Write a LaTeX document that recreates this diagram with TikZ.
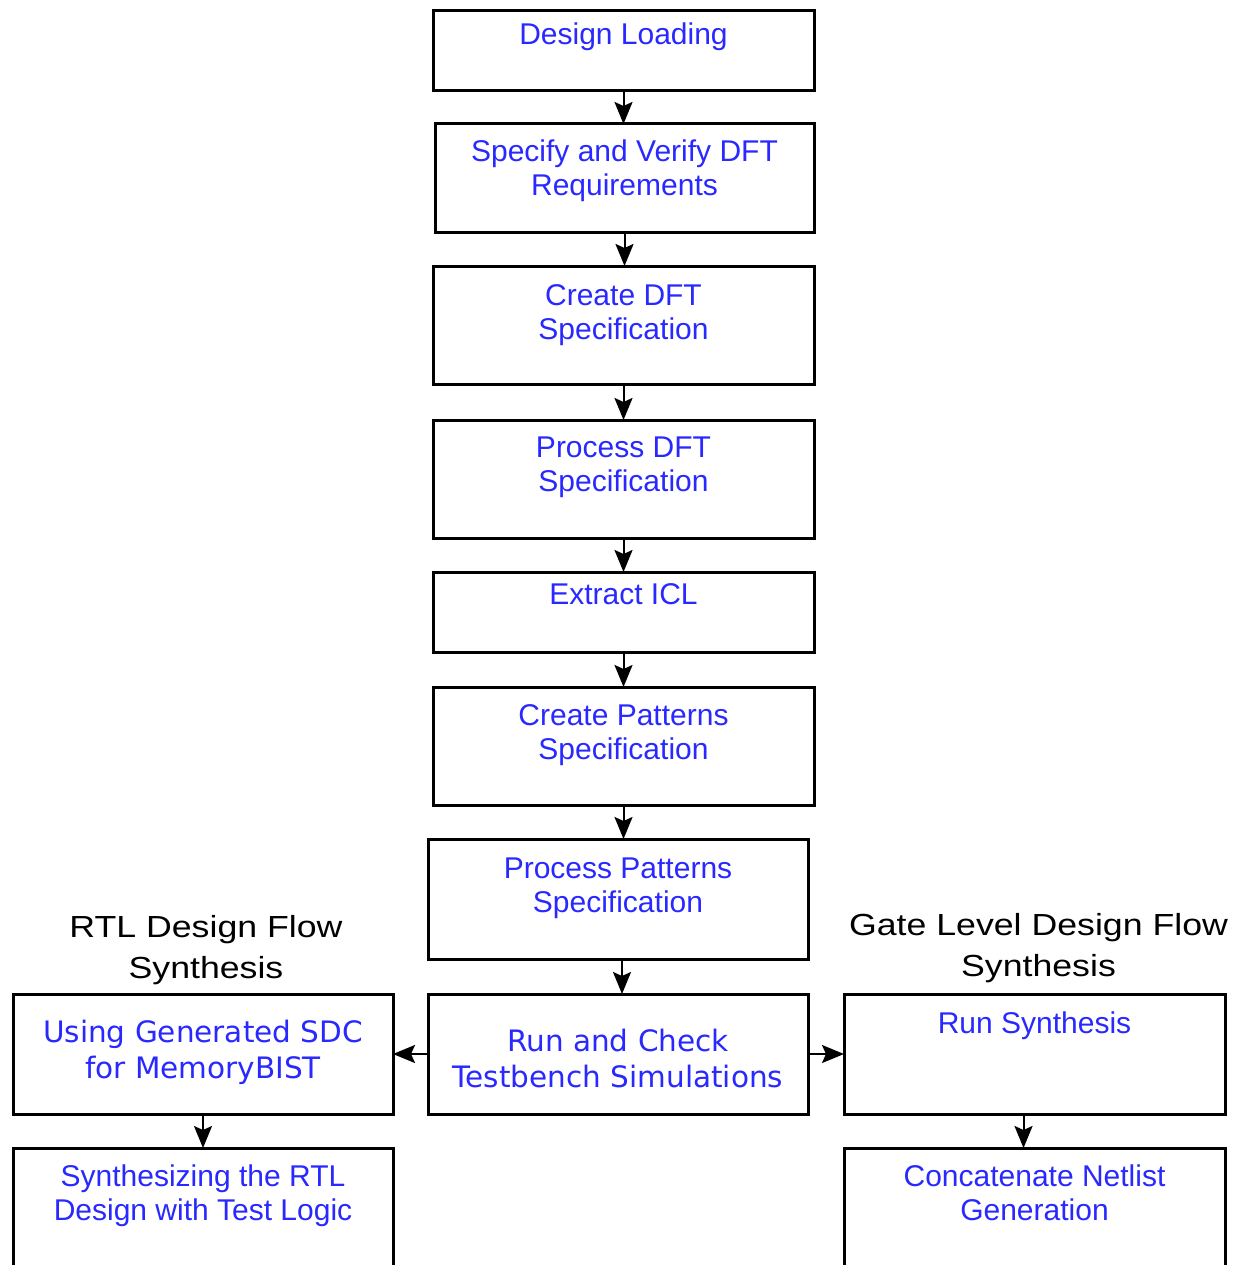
\documentclass[tikz,border=0pt]{standalone}
\usepackage{fontspec}
\setmainfont{Liberation Sans}
\newfontfamily\verdfont{DejaVu Sans}
\newfontfamily\lblfont{Liberation Sans}[FakeStretch=1.17]
\usetikzlibrary{arrows.meta}
\definecolor{txtblue}{RGB}{40,40,255}
\begin{document}
\begin{tikzpicture}[x=1pt,y=-1pt,
 box/.style={draw=black, line width=3pt, minimum width=381pt, inner sep=0pt, outer sep=0pt},
 arr/.style={line width=2pt, -{Stealth[length=22pt,width=18pt,inset=4pt]}},
 txt/.style={text=txtblue, font=\fontsize{30}{34}\selectfont, align=center, anchor=north, inner sep=0pt},
 vtxt/.style={text=txtblue, font=\verdfont\fontsize{29.5}{36}\selectfont, align=center, anchor=north, inner sep=0pt},
 lbl/.style={text=black, font=\lblfont\fontsize{30.5}{41}\selectfont, align=center, anchor=north, inner sep=0pt}]
\useasboundingbox (0,0) rectangle (1242,1265);
\clip (0,0) rectangle (1242,1265);

% main column
\node[box, minimum height=80pt] (b1) at (623.5,51) {};
\node[box, minimum width=379pt, minimum height=109pt] (b2) at (624.5,178.5) {};
\node[box, minimum height=118pt] (b3) at (623.5,325) {};
\node[box, minimum height=118pt] (b4) at (623.5,479) {};
\node[box, minimum height=80pt] (b5) at (623.5,612) {};
\node[box, minimum height=118pt] (b6) at (623.5,746) {};
\node[box, minimum width=380pt, minimum height=120pt] (b7) at (618,899) {};
\node[box, minimum width=380pt, minimum height=120pt] (b8) at (618,1054) {};
% left column
\node[box, minimum width=380pt, minimum height=120pt] (l1) at (203,1054) {};
\node[box, minimum width=380pt, minimum height=140pt] (l2) at (203,1218) {};
% right column
\node[box, minimum height=120pt] (r1) at (1034.5,1054) {};
\node[box, minimum height=140pt] (r2) at (1034.5,1218) {};

% texts
\node[txt] (t1) at ([yshift=-12pt]b1.north) {Design Loading};
\node[txt] (t2) at ([yshift=-16pt]b2.north) {Specify and Verify DFT\\Requirements};
\node[txt] (t3) at ([yshift=-18pt]b3.north) {Create DFT\\Specification};
\node[txt] (t4) at ([yshift=-17pt]b4.north) {Process DFT\\Specification};
\node[txt] (t5) at ([yshift=-11pt]b5.north) {Extract ICL};
\node[txt] (t6) at ([yshift=-17pt]b6.north) {Create Patterns\\Specification};
\node[txt] (t7) at ([yshift=-19pt]b7.north) {Process Patterns\\Specification};
\node[vtxt] (t8) at ([yshift=-35pt]b8.north) {Run and Check\\Testbench Simulations};
\node[vtxt] (tl1) at ([yshift=-26pt]l1.north) {Using Generated SDC\\for MemoryBIST};
\node[txt] (tl2) at ([yshift=-17pt]l2.north) {Synthesizing the RTL\\Design with Test Logic};
\node[txt] (tr1) at ([yshift=-18pt]r1.north) {Run Synthesis};
\node[txt] (tr2) at ([yshift=-17pt]r2.north) {Concatenate Netlist\\Generation};

% column labels
\node[lbl] (lblL) at (206,915) {RTL Design Flow\\Synthesis};
\node[lbl] (lblR) at (1038.5,913) {Gate Level Design Flow\\Synthesis};

% arrows
\draw[arr] (b1.south) -- (b1.south |- b2.north);
\draw[arr] (b2.south) -- (b2.south |- b3.north);
\draw[arr] (b3.south) -- (b3.south |- b4.north);
\draw[arr] (b4.south) -- (b4.south |- b5.north);
\draw[arr] (b5.south) -- (b5.south |- b6.north);
\draw[arr] (b6.south) -- (b6.south |- b7.north);
\draw[arr] ([xshift=4pt]b7.south) -- ([xshift=4pt]b8.north);
\draw[arr] (b8.west) -- (l1.east);
\draw[arr] (b8.east) -- (r1.west);
\draw[arr] (l1.south) -- (l1.south |- l2.north);
\draw[arr] ([xshift=-11pt]r1.south) -- ([xshift=-11pt]r1.south |- r2.north);
\end{tikzpicture}
\end{document}
